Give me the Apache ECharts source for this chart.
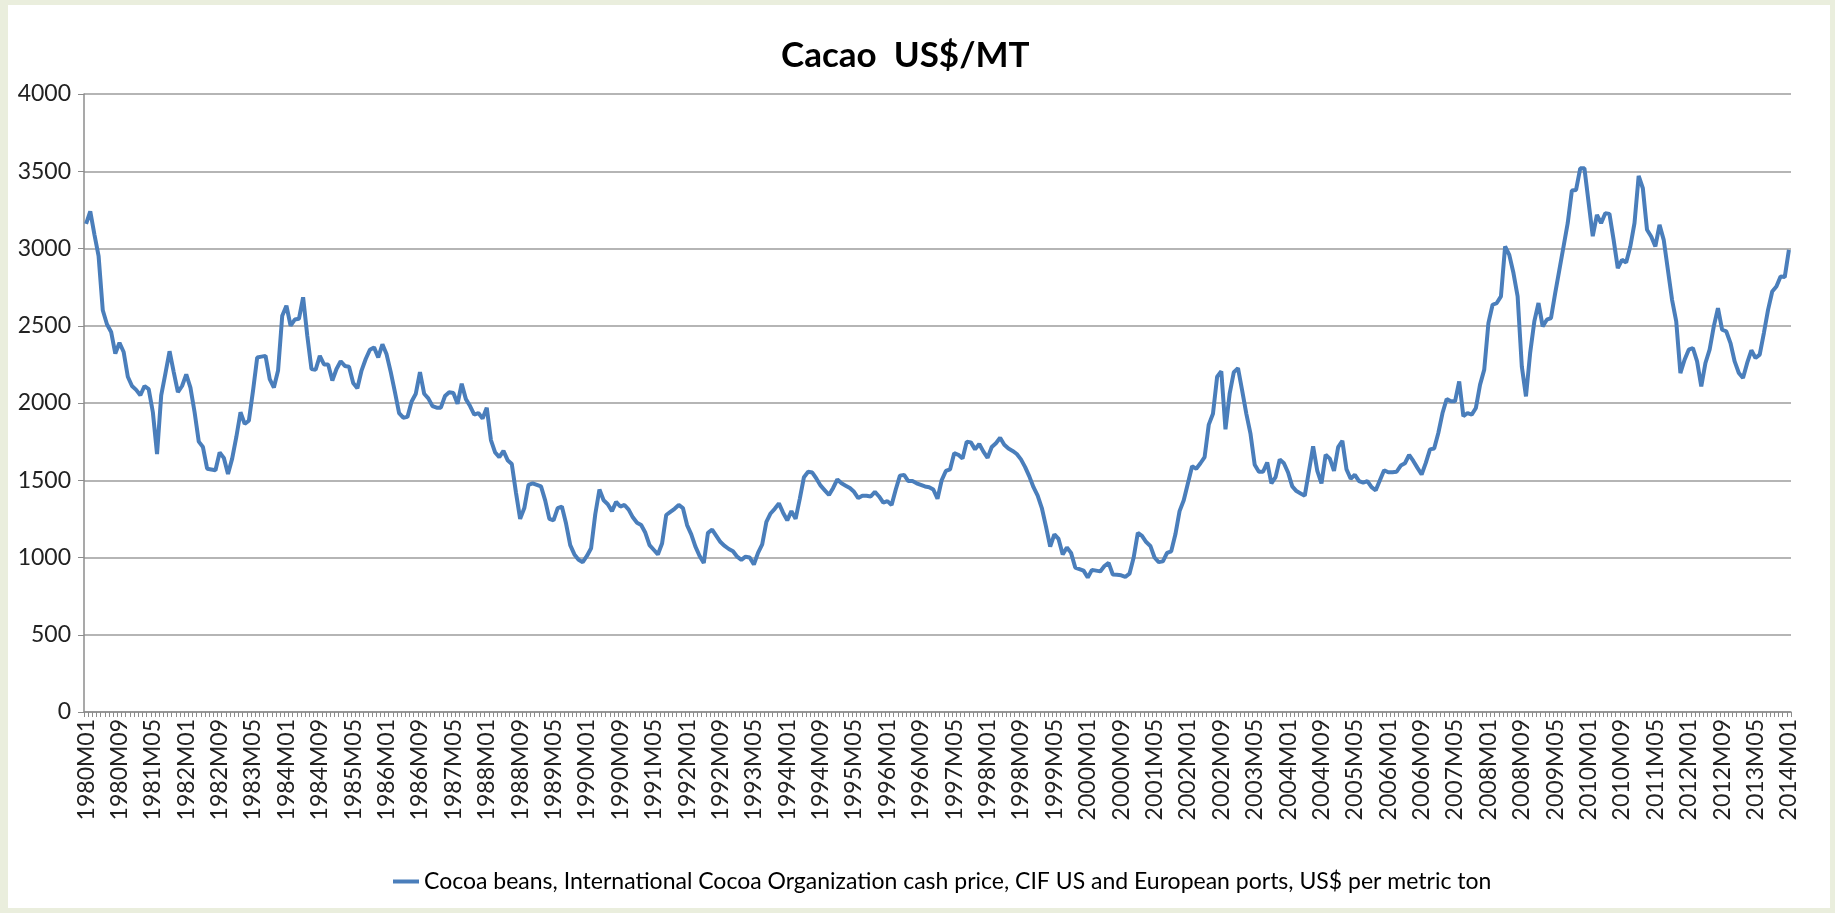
<!DOCTYPE html>
<html>
<head>
<meta charset="utf-8">
<script src="https://cdn.jsdelivr.net/npm/echarts@6/dist/echarts.min.js"></script>
<style>
html,body{margin:0;padding:0;background:#EAEEDD;}
#bg{position:absolute;left:8px;top:5px;width:1822px;height:903px;background:#fff;}
#chart{position:absolute;left:0;top:0;width:1835px;height:913px;}
</style>
</head>
<body>
<div id="bg"></div>
<div id="chart"></div>
<script>
// Monthly categories 1980M01 .. 2014M01
const startYear = 1980;
const endYear = 2014;
const endMonth = 1;
const categories = [];
for (let y = startYear; y <= endYear; y++) {
  for (let m = 1; m <= 12; m++) {
    if (y === endYear && m > endMonth) break;
    categories.push(y + 'M' + (m < 10 ? '0' + m : m));
  }
}

const yTicks = [0, 500, 1000, 1500, 2000, 2500, 3000, 3500, 4000];

// Cocoa beans price, US$ per metric ton
const prices1980_1984 = [
  3160,3240,3090,2950,2600,2510,2460,2320,2390,2330,2170,2110,
  2085,2050,2110,2090,1940,1670,2050,2190,2335,2200,2070,2110,
  2185,2100,1940,1750,1715,1575,1570,1565,1680,1645,1540,1640,
  1780,1940,1865,1885,2080,2295,2300,2305,2155,2100,2210,2565,
  2630,2500,2540,2545,2684,2435,2220,2215,2305,2250,2250,2145
];
const prices1985_1989 = [
  2220,2270,2240,2235,2130,2095,2210,2285,2345,2360,2295,2380,
  2315,2200,2070,1935,1905,1910,2010,2060,2200,2060,2030,1980,
  1970,1970,2045,2070,2065,1995,2125,2025,1980,1925,1935,1900,
  1970,1760,1680,1650,1690,1630,1605,1420,1250,1320,1470,1480,
  1470,1460,1370,1250,1240,1320,1330,1220,1080,1020,985,970
];
const prices1990_1994 = [
  1010,1060,1280,1440,1370,1345,1300,1360,1330,1340,1310,1260,
  1225,1210,1160,1080,1050,1020,1090,1275,1295,1315,1340,1320,
  1210,1150,1070,1010,965,1160,1180,1140,1100,1075,1055,1040,
  1005,985,1005,1000,955,1030,1085,1230,1285,1315,1350,1290,
  1240,1300,1250,1380,1520,1555,1550,1510,1465,1435,1405,1450
];
const prices1995_1999 = [
  1505,1480,1465,1450,1425,1385,1400,1400,1395,1425,1395,1355,
  1365,1340,1440,1530,1535,1495,1495,1480,1470,1460,1455,1440,
  1380,1500,1560,1570,1675,1665,1640,1750,1745,1700,1735,1685,
  1645,1715,1740,1775,1730,1705,1690,1670,1635,1585,1525,1455,
  1400,1320,1200,1070,1150,1120,1020,1065,1030,935,925,915
];
const prices2000_2004 = [
  870,920,915,910,945,965,890,888,885,875,895,1000,
  1160,1140,1100,1075,1000,970,975,1030,1040,1150,1300,1370,
  1480,1590,1575,1610,1650,1860,1930,2170,2205,1830,2060,2200,
  2225,2080,1930,1800,1600,1555,1555,1615,1480,1520,1635,1610,
  1550,1460,1430,1415,1400,1560,1720,1560,1480,1665,1640,1560
];
const prices2005_2009 = [
  1715,1755,1570,1510,1535,1495,1485,1495,1455,1435,1500,1565,
  1552,1552,1555,1595,1610,1665,1625,1580,1537,1612,1700,1705,
  1806,1935,2026,2011,2011,2140,1914,1935,1925,1968,2119,2216,
  2517,2636,2647,2690,3013,2959,2841,2690,2237,2043,2323,2528,
  2647,2496,2539,2550,2711,2862,3013,3164,3375,3379,3519,3519
];
const prices2010_2014 = [
  3300,3080,3218,3164,3228,3224,3056,2873,2927,2909,3013,3164,
  3470,3390,3121,3078,3013,3153,3056,2862,2668,2528,2194,2280,
  2345,2356,2269,2108,2259,2345,2496,2614,2474,2463,2388,2269,
  2194,2162,2259,2341,2291,2313,2453,2603,2722,2754,2819,2815,
  2991
];
const cocoaPrices = [].concat(prices1980_1984, prices1985_1989, prices1990_1994,
  prices1995_1999, prices2000_2004, prices2005_2009, prices2010_2014);

const seriesName = 'Cocoa beans, International Cocoa Organization cash price, CIF US and European ports, US$ per metric ton';
const titleText = 'Cacao  US$/MT';

const FONT = 'Lato, "Liberation Sans", sans-serif';
const chart = echarts.init(document.getElementById('chart'));
chart.setOption({
  backgroundColor: 'transparent',
  animation: false,
  title: {
    text: titleText,
    left: 776,
    top: 33,
    textStyle: { fontFamily: FONT, fontWeight: 'bold', fontSize: 35, color: '#000' }
  },
  legend: {
    data: [seriesName],
    left: 388,
    top: 865,
    icon: 'rect',
    itemWidth: 26,
    itemHeight: 4,
    textStyle: { fontFamily: FONT, fontSize: 23, color: '#000' }
  },
  grid: { left: 84, right: 44, top: 94, bottom: 201, containLabel: false },
  xAxis: {
    type: 'category',
    data: categories,
    boundaryGap: true,
    axisLine: { show: true, lineStyle: { color: '#8C8C8C', width: 1.5 } },
    axisTick: { show: true, interval: 0, length: 5, lineStyle: { color: '#8C8C8C' } },
    axisLabel: {
      interval: 7, rotate: 90, margin: 7,
      fontFamily: FONT, fontSize: 23, color: '#222'
    },
    splitLine: { show: false }
  },
  yAxis: {
    type: 'value',
    min: yTicks[0],
    max: yTicks[yTicks.length - 1],
    interval: 500,
    axisLine: { show: true, lineStyle: { color: '#8C8C8C', width: 1.5 } },
    axisTick: { show: true, length: 6, lineStyle: { color: '#8C8C8C' } },
    axisLabel: {
      margin: 13, fontFamily: FONT, fontSize: 23, color: '#222',
      formatter: function (v) { return String(v); }
    },
    splitLine: { show: true, lineStyle: { color: '#9C9C9C', width: 1.5 } }
  },
  series: [{
    name: seriesName,
    type: 'line',
    data: cocoaPrices,
    showSymbol: false,
    symbol: 'none',
    lineStyle: { color: '#4A7EBB', width: 4 },
    itemStyle: { color: '#4A7EBB' }
  }]
});
</script>
</body>
</html>
